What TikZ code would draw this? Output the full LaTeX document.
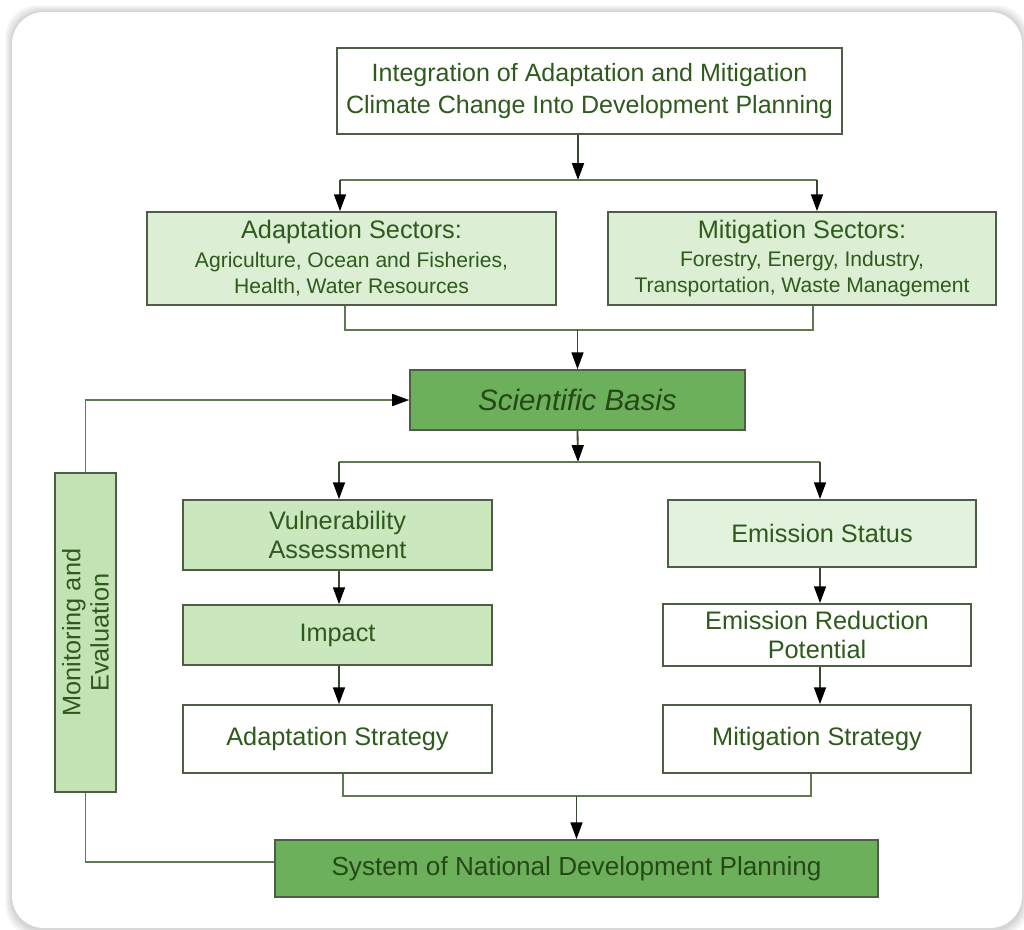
\documentclass[tikz,border=0pt]{standalone}
\usepackage{fontspec}
\setmainfont{Liberation Sans}
\usetikzlibrary{arrows.meta,calc}
\definecolor{edge}{HTML}{4E5E46}
\definecolor{conn}{HTML}{5F7A50}
\definecolor{txt}{HTML}{2E5A1C}
\definecolor{lightg}{HTML}{DCEFD4}
\definecolor{midg}{HTML}{C3E3B4}
\definecolor{darkg}{HTML}{6DB05C}
\tikzset{
  box/.style={draw=edge, line width=1.2pt, inner sep=0pt, align=center, text=txt,
    font=\fontsize{18}{21}\selectfont},
  conline/.style={draw=conn, line width=1.3pt},
  arr/.style={draw=conn!60!black, line width=1.3pt, -{Triangle[width=8.5pt,length=12pt,color=black]}},
  arrg/.style={draw=conn, line width=1.3pt, -{Triangle[width=8.5pt,length=12pt,color=black]}},
}
\begin{document}
\begin{tikzpicture}[x=0.025cm,y=-0.025cm]
\useasboundingbox (0,0) rectangle (1024,929);
\fill[white] (0,0) rectangle (1024,929);
% card shadow
\foreach \i in {1,...,7}{
  \fill[black,opacity=0.025,rounded corners=0.8cm] (12-\i,12-\i) rectangle (1022+\i,930+\i);
}
\fill[white,rounded corners=0.8cm] (12,12) rectangle (1022,928);

% nodes
\node[box, fill=white, minimum width=12.625cm, minimum height=2.15cm,
  font=\fontsize{17.8}{23}\selectfont] (top) at (589.5,91)
  {Integration of Adaptation and Mitigation\\Climate Change Into Development Planning};
\node[box, fill=lightg, minimum width=10.225cm, minimum height=2.325cm] (adapt) at (351.5,258.5)
  {Adaptation Sectors:\\[-1pt]{\fontsize{15}{23}\selectfont Agriculture, Ocean and Fisheries,}\\[-2pt]{\fontsize{15}{20}\selectfont Health, Water Resources}};
\node[box, fill=lightg, minimum width=9.7cm, minimum height=2.325cm] (mitig) at (802,258.5)
  {Mitigation Sectors:\\[-1pt]{\fontsize{15}{23}\selectfont Forestry, Energy, Industry,}\\[-2pt]{\fontsize{15}{20}\selectfont Transportation, Waste Management}};
\node[box, fill=darkg, minimum width=8.375cm, minimum height=1.5cm,
  font=\fontsize{21}{24}\selectfont\itshape, text=txt!80!black] (sci) at (577.5,400) {Scientific Basis};
\node[box, fill=midg!70!lightg, minimum width=7.725cm, minimum height=1.75cm,
  font=\fontsize{18}{20}\selectfont] (vuln) at (337.5,535) {Vulnerability\\Assessment};
\node[box, fill=midg!70!lightg, minimum width=7.725cm, minimum height=1.5cm] (imp) at (337.5,635) {Impact};
\node[box, fill=white, minimum width=7.725cm, minimum height=1.7cm] (adst) at (337.5,739) {Adaptation Strategy};
\node[box, fill=lightg!80!white, minimum width=7.7cm, minimum height=1.675cm] (emst) at (822,533.5) {Emission Status};
\node[box, fill=white, minimum width=7.7cm, minimum height=1.55cm,
  font=\fontsize{18}{20}\selectfont] (erp) at (817,635) {Emission Reduction\\Potential};
\node[box, fill=white, minimum width=7.7cm, minimum height=1.7cm] (mist) at (817,739) {Mitigation Strategy};
\node[box, fill=darkg, minimum width=15.075cm, minimum height=1.425cm, text=txt!80!black,
  font=\fontsize{18.6}{21}\selectfont] (sys) at (576.5,868.5)
  {System of National Development Planning};
\node[box, fill=midg, minimum width=1.525cm, minimum height=7.975cm] (mon) at (85.5,632.5) {};
\node[rotate=90, align=center, text=txt, font=\fontsize{18}{20}\selectfont] (monl) at (mon.center) {Monitoring and\\Evaluation};

% connector coordinates
\coordinate (b1) at (578,180);
\coordinate (b1l) at (340,180);
\coordinate (b1r) at (817,180);
\coordinate (b2l) at (345,330);
\coordinate (b2r) at (813,330);
\coordinate (b3) at (578,462);
\coordinate (b3l) at (339,462);
\coordinate (b3r) at (820,462);
\coordinate (b4l) at (343,796);
\coordinate (b4r) at (811,796);
\coordinate (m1) at (85.5,862);

% connectors
\draw[arr] (top.south -| b1) -- (b1);
\draw[conline] (b1l) -- (b1r);
\draw[arr] (b1l) -- (b1l |- adapt.north);
\draw[arr] (b1r) -- (b1r |- mitig.north);
\draw[conline] (adapt.south -| b2l) -- (b2l) -- (b2r) -- (mitig.south -| b2r);
\draw[arr] (b2l -| sci.north) -- (sci.north);
\draw[arr] (sci.south) -- (b3);
\draw[conline] (b3l) -- (b3r);
\draw[arr] (b3l) -- (b3l |- vuln.north);
\draw[arr] (b3r) -- (b3r |- emst.north);
\draw[arr] (vuln.south -| b3l) -- (imp.north -| b3l);
\draw[arr] (imp.south -| b3l) -- (adst.north -| b3l);
\draw[arr] (emst.south -| b3r) -- (erp.north -| b3r);
\draw[arr] (erp.south -| b3r) -- (mist.north -| b3r);
\draw[conline] (adst.south -| b4l) -- (b4l) -- (b4r) -- (mist.south -| b4r);
\draw[arr] (b4l -| sys.north) -- (sys.north);
\draw[conline] (sys.west |- m1) -- (m1) -- (mon.south);
\draw[arrg] (mon.north) |- (sci.west);
\end{tikzpicture}
\end{document}
